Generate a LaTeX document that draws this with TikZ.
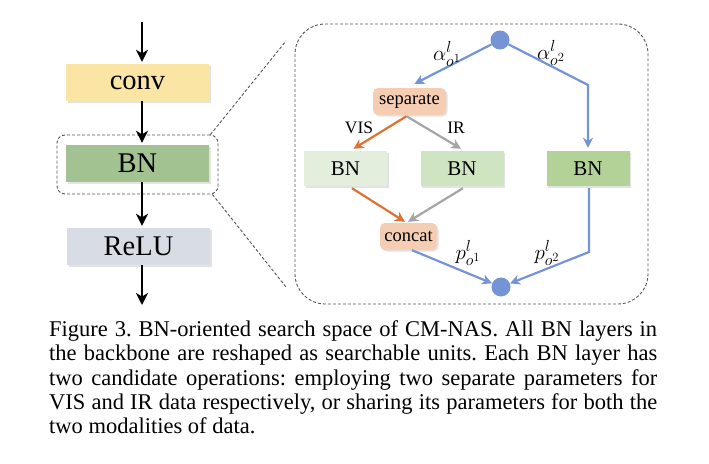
\RequirePackage{fix-cm}
\documentclass[tikz,border=0pt]{standalone}
\usepackage{fontspec}
\setmainfont{Liberation Serif}
\DeclareMathSizes{21}{21}{16}{12.5}
\usetikzlibrary{arrows.meta,shadows}
\definecolor{convc}{HTML}{FAE5A4}
\definecolor{bnc}{HTML}{A2C291}
\definecolor{reluc}{HTML}{D7DCE5}
\definecolor{opc}{HTML}{F5CDB2}
\definecolor{bnva}{HTML}{E4EEDD}
\definecolor{bnvb}{HTML}{CFE4C1}
\definecolor{bnvc}{HTML}{B2D298}
\definecolor{bluec}{HTML}{7494D5}
\definecolor{orc}{HTML}{E0722F}
\definecolor{grc}{HTML}{A5A5A5}
\definecolor{dashc}{HTML}{555555}
\tikzset{
  shad/.style={drop shadow={opacity=0.22,shadow xshift=1.5pt,shadow yshift=-1.5pt}},
  mainbox/.style={shad,inner sep=0pt,minimum width=143pt,minimum height=37pt,font=\fontsize{28.5}{30}\selectfont},
  bnbox/.style={shad,inner sep=0pt,minimum width=83pt,minimum height=35pt,font=\fontsize{21}{23}\selectfont},
  opbox/.style={shad,rounded corners=5pt,fill=opc,inner sep=0pt,minimum height=27pt,font=\fontsize{18.5}{20}\selectfont},
  blarrow/.style={line width=2pt,-{Stealth[length=12pt,width=12pt,inset=3.5pt]}},
  bluearr/.style={draw=bluec,line width=2.2pt,-{Stealth[length=10pt,width=10pt,inset=3pt]}},
  orarr/.style={draw=orc,line width=2.2pt,-{Stealth[length=10pt,width=10pt,inset=3pt]}},
  grarr/.style={draw=grc,line width=2.2pt,-{Stealth[length=10pt,width=10pt,inset=3pt]}},
  dot/.style={circle,fill=bluec,minimum size=19pt,inner sep=0pt},
  dashln/.style={draw=dashc,line width=0.9pt,dash pattern=on 3pt off 2pt},
  lab/.style={inner sep=0pt,font=\fontsize{17.5}{19}\selectfont},
  mlab/.style={inner sep=0pt,font=\fontsize{21}{23}\selectfont},
  capline/.style={anchor=base west,inner sep=0pt,font=\fontsize{22.5}{24}\selectfont\frenchspacing},
}
\begin{document}
\begin{tikzpicture}[x=1pt,y=-1pt]
\useasboundingbox (0,0) rectangle (709,463);
% left column
\node[dashln,rounded corners=8pt,minimum width=161pt,minimum height=59pt] (zsrc) at (137.5,164.5) {};
\node[mainbox,fill=convc] (conv) at (137.5,82.5) {conv};
\node[mainbox,fill=bnc] (bn) at (137.5,163.5) {BN};
\node[mainbox,fill=reluc] (relu) at (138.5,246.5) {ReLU};
\coordinate (in) at (142,22);
\coordinate (out) at (142,305);
\draw[blarrow] (in) -- ([shift={(4.5,-2)}]conv.north);
\draw[blarrow] ([xshift=4.5pt]conv.south) -- ([shift={(4.5,-2)}]bn.north);
\draw[blarrow] ([xshift=4.5pt]bn.south) -- ([shift={(3.5,-2)}]relu.north);
\draw[blarrow] ([xshift=3.5pt]relu.south) -- (out);
% zoom lines
\coordinate (z1) at (286,41);
\coordinate (z2) at (286,287);
\draw[dashln] ([xshift=-8pt]zsrc.north east) -- (z1);
\draw[dashln] ([xshift=-6pt]zsrc.south east) -- (z2);
% right panel
\node[dashln,rounded corners=30pt,minimum width=353pt,minimum height=280pt] (panel) at (471.5,164) {};
\node[dot] (top) at (500,40) {};
\node[dot] (bot) at (501,287) {};
\node[opbox,minimum width=73pt] (sep) at (409.5,101.5) {separate};
\node[opbox,minimum width=57pt] (cat) at (408.5,236.5) {concat};
\node[bnbox,fill=bnva] (bnv) at (345.5,168.5) {BN};
\node[bnbox,fill=bnvb] (bni) at (462,168.5) {BN};
\node[bnbox,fill=bnvc] (bns) at (588,168.5) {BN};
\coordinate (rt) at (588,85);
\coordinate (rb) at (589,252);
\draw[bluearr] (top) -- ([shift={(5,-4)}]sep.north);
\draw[bluearr,line join=miter] (top) -- (rt) -- ([yshift=3pt]bns.north);
\draw[orarr] ([shift={(-3,1)}]sep.south) -- ([shift={(8,-2)}]bnv.north);
\draw[grarr] ([shift={(-3,1)}]sep.south) -- ([shift={(-1,-2)}]bni.north);
\draw[orarr] ([shift={(6.5,2)}]bnv.south) -- ([shift={(-3.5,-1)}]cat.north);
\draw[grarr] ([shift={(1,2)}]bni.south) -- ([shift={(-0.5,-1)}]cat.north);
\draw[bluearr] ([xshift=3.5pt]cat.south) -- (bot);
\draw[bluearr,line join=miter] ([shift={(1,2)}]bns.south) -- (rb) -- (bot);
% labels
\node[mlab] (a1) at (447,54) {$\alpha^{l}_{o^{1}}$};
\node[mlab] (a2) at (551,53) {$\alpha^{l}_{o^{2}}$};
\node[lab] (vis) at (359,128) {VIS};
\node[lab] (ir) at (456,128) {IR};
\node[mlab] (p1) at (468,253) {$p^{l}_{o^{1}}$};
\node[mlab] (p2) at (547,253) {$p^{l}_{o^{2}}$};
% caption
\node[capline] (c1) at (49,336.7) {\makebox[608pt][s]{Figure 3. BN-oriented search space of CM-NAS. All BN layers in}};
\node[capline] (c2) at (49,360.9) {\makebox[608pt][s]{the backbone are reshaped as searchable units. Each BN layer has}};
\node[capline] (c3) at (49,385.1) {\makebox[608pt][s]{two candidate operations: employing two separate parameters for}};
\node[capline] (c4) at (49,409.3) {\makebox[608pt][s]{VIS and IR data respectively, or sharing its parameters for both the}};
\node[capline] (c5) at (49,433.5) {two modalities of data.};
\end{tikzpicture}
\end{document}
